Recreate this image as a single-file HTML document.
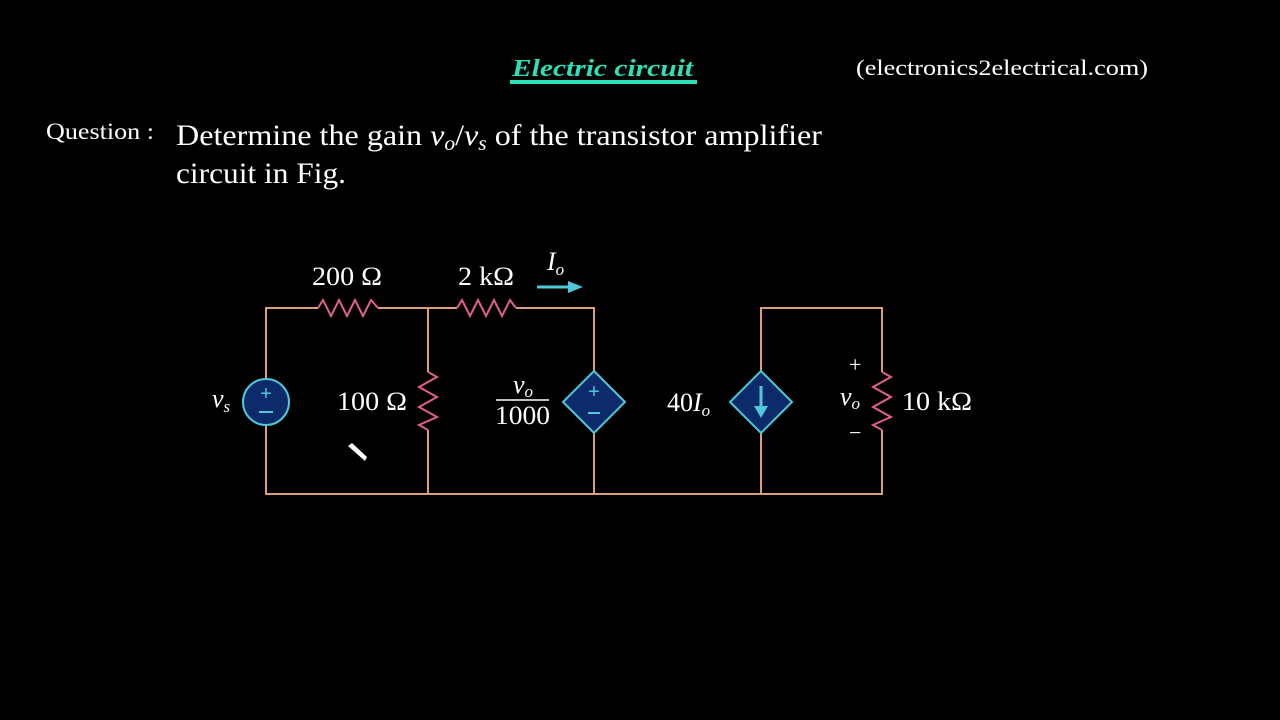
<!DOCTYPE html>
<html><head><style>
body{margin:0;background:#000;width:1280px;height:720px;overflow:hidden}
svg{display:block}
</style></head><body>
<svg width="1280" height="720" viewBox="0 0 1280 720" xmlns="http://www.w3.org/2000/svg">
<rect width="1280" height="720" fill="#000"/>
<text x="512" y="76" font-family="Liberation Serif, serif" font-size="24" font-style="italic" font-weight="bold" fill="#2ee0b8" textLength="181" lengthAdjust="spacingAndGlyphs">Electric circuit</text>
<rect x="510" y="80" width="187" height="4" fill="#2ee0b8"/>
<text x="856" y="75" font-family="Liberation Serif, serif" font-size="22" fill="#fff" textLength="292" lengthAdjust="spacingAndGlyphs">(electronics2electrical.com)</text>
<text x="46" y="139" font-family="Liberation Serif, serif" font-size="23" fill="#fff" textLength="108" lengthAdjust="spacingAndGlyphs">Question :</text>
<text x="176" y="145" font-family="Liberation Serif, serif" font-size="30" fill="#fff" textLength="646" lengthAdjust="spacingAndGlyphs">Determine the gain <tspan font-style="italic">v</tspan><tspan font-style="italic" font-size="20" dy="5">o</tspan><tspan dy="-5">/</tspan><tspan font-style="italic">v</tspan><tspan font-style="italic" font-size="20" dy="5">s</tspan><tspan dy="-5"> of the transistor amplifier</tspan></text>
<text x="176" y="183" font-family="Liberation Serif, serif" font-size="30" fill="#fff" textLength="170" lengthAdjust="spacingAndGlyphs">circuit in Fig.</text>

<g stroke="#d9a07a" stroke-width="2" fill="none">
<path d="M266 379 V308 H318 M378 308 H457 M516 308 H594 V371"/>
<path d="M266 425 V494 H882 V430"/>
<path d="M428 308 V372 M428 430 V494"/>
<path d="M594 433 V494 M761 433 V494 M761 371 V308 H882 V372"/>
</g>
<g stroke="#e0608a" stroke-width="2" fill="none">
<polyline points="318,308 323,300 331,316 339,300 347,316 355,300 363,316 371,300 378,308"/>
<polyline points="457,308 462,300 470,316 478,300 486,316 494,300 502,316 510,300 516,308"/>
<polyline points="428,372 437,377 419,387 437,397 419,407 437,417 419,425 428,430"/>
<polyline points="882,372 891,377 873,387 891,397 873,407 891,417 873,425 882,430"/>
</g>
<circle cx="266" cy="402" r="23" fill="#0d2a6a" stroke="#4fc8d8" stroke-width="2"/>
<text x="266" y="400" text-anchor="middle" font-family="Liberation Sans,sans-serif" font-size="20" fill="#4fc8d8">+</text>
<line x1="259" y1="412" x2="273" y2="412" stroke="#4fc8d8" stroke-width="2"/>
<polygon points="594,371 625,402 594,433 563,402" fill="#0d2a6a" stroke="#4fc8d8" stroke-width="2"/>
<text x="594" y="398" text-anchor="middle" font-family="Liberation Sans,sans-serif" font-size="20" fill="#4fc8d8">+</text>
<line x1="588" y1="413" x2="600" y2="413" stroke="#4fc8d8" stroke-width="2"/>
<polygon points="761,371 792,402 761,433 730,402" fill="#0d2a6a" stroke="#4fc8d8" stroke-width="2"/>
<line x1="761" y1="386" x2="761" y2="410" stroke="#4fc8d8" stroke-width="3"/>
<polygon points="754,406 768,406 761,418" fill="#4fc8d8"/>
<line x1="537" y1="287" x2="572" y2="287" stroke="#4fc8d8" stroke-width="3"/>
<polygon points="568,281 583,287 568,293" fill="#4fc8d8"/>
<polygon points="348,446 352,443 367,457 365,461" fill="#fff"/>
<g font-family="Liberation Serif, serif" fill="#fff" font-size="26">
<text x="312" y="285" textLength="70" lengthAdjust="spacingAndGlyphs">200 Ω</text>
<text x="458" y="285" textLength="56" lengthAdjust="spacingAndGlyphs">2 kΩ</text>
<text x="547" y="270" font-style="italic">I<tspan font-size="17" dy="5">o</tspan></text>
<text x="212" y="407" font-style="italic">v<tspan font-size="17" dy="5">s</tspan></text>
<text x="337" y="410" textLength="70" lengthAdjust="spacingAndGlyphs">100 Ω</text>
<text x="513" y="393" font-style="italic">v<tspan font-size="17" dy="4">o</tspan></text>
<line x1="496" y1="400" x2="549" y2="400" stroke="#fff" stroke-width="1.5"/>
<text x="495" y="424" textLength="55" lengthAdjust="spacingAndGlyphs">1000</text>
<text x="667" y="411">40<tspan font-style="italic">I</tspan><tspan font-style="italic" font-size="17" dy="5">o</tspan></text>
<text x="849" y="372" font-size="22">+</text>
<text x="840" y="405" font-style="italic">v<tspan font-size="17" dy="4">o</tspan></text>
<text x="849" y="440" font-size="22">−</text>
<text x="902" y="410" textLength="70" lengthAdjust="spacingAndGlyphs">10 kΩ</text>
</g>
</svg>
</body></html>
